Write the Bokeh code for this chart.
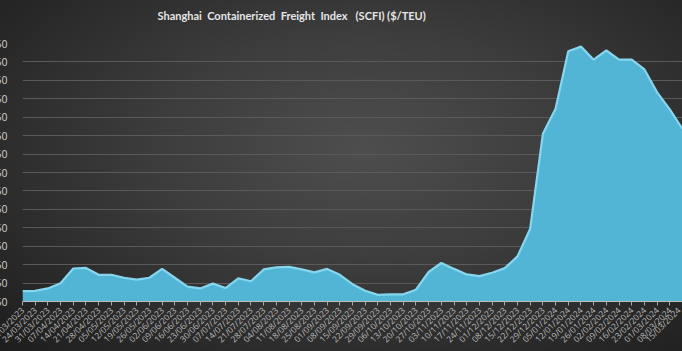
from bokeh.plotting import figure
from bokeh.models import FixedTicker, NumeralTickFormatter
from bokeh.embed import file_html
from bokeh.resources import INLINE
import math

dates = ["17/03/2023", "24/03/2023", "31/03/2023", "07/04/2023", "14/04/2023", "21/04/2023",
         "28/04/2023", "05/05/2023", "12/05/2023", "19/05/2023", "26/05/2023", "02/06/2023",
         "09/06/2023", "16/06/2023", "23/06/2023", "30/06/2023", "07/07/2023", "14/07/2023",
         "21/07/2023", "28/07/2023", "04/08/2023", "11/08/2023", "18/08/2023", "25/08/2023",
         "01/09/2023", "08/09/2023", "15/09/2023", "22/09/2023", "29/09/2023", "06/10/2023",
         "13/10/2023", "20/10/2023", "27/10/2023", "03/11/2023", "10/11/2023", "17/11/2023",
         "24/11/2023", "01/12/2023", "08/12/2023", "15/12/2023", "22/12/2023", "29/12/2023",
         "05/01/2024", "12/01/2024", "19/01/2024", "26/01/2024", "02/02/2024", "09/02/2024",
         "16/02/2024", "23/02/2024", "01/03/2024", "08/03/2024", "15/03/2024"]

scfi = [906, 908, 921, 949, 1029, 1032, 995, 995, 979, 969, 979, 1027,
        979, 931, 921, 947, 923, 976, 960, 1024, 1035, 1038, 1024, 1008,
        1027, 995, 944, 908, 886, 889, 889, 914, 1010, 1059, 1027, 997,
        988, 1006, 1031, 1095, 1245, 1760, 1896, 2208, 2233, 2162, 2212, 2162,
        2162, 2109, 1985, 1893, 1786]

y_ticks = [850, 950, 1050, 1150, 1250, 1350, 1450, 1550, 1650, 1750, 1850, 1950, 2050, 2150, 2250]

title_text = "Shanghai\u00a0\u00a0Containerized\u00a0\u00a0Freight\u00a0\u00a0Index\u00a0\u00a0\u00a0(SCFI)\u00a0($/TEU)\n\u00a0"

idx = list(range(len(dates)))

SHIFT = 24
p = figure(width=682 + SHIFT, height=351, output_backend="svg", toolbar_location=None,
           x_range=(0, len(dates) - 1), y_range=(850, 2250),
           min_border_left=22 + SHIFT, min_border_right=0, min_border_top=43, min_border_bottom=45,
           title=title_text)
p.styles = {"margin-left": f"-{SHIFT}px",
            "background-image": "radial-gradient(ellipse 75% 85% at 55% 42%, #4e4e4e 0%, #3c3c3c 40%, #262626 80%, #1c1c1c 100%)"}
p.background_fill_color = None
p.border_fill_color = None
p.outline_line_color = None

p.title.text_color = "#e6e6e6"
p.title.text_font = "Lato"
p.title.text_font_style = "bold"
p.title.text_font_size = "11px"
p.title.text_line_height = 1.5
p.title.align = "left"
p.title.offset = 135
p.title.vertical_align = "top"
p.title.standoff = 0

p.varea(x=idx, y1=850, y2=scfi, fill_color="#52b5d6")
p.line(x=idx, y=scfi, line_color="#86d6ee", line_width=2.2)

p.xgrid.grid_line_color = None
p.ygrid.grid_line_color = "#5a5a5a"
p.ygrid.grid_line_width = 1
p.ygrid.ticker = FixedTicker(ticks=y_ticks)

p.yaxis.ticker = FixedTicker(ticks=y_ticks)
p.yaxis.formatter = NumeralTickFormatter(format="0")
p.yaxis.axis_line_color = None
p.yaxis.major_tick_line_color = None
p.yaxis.minor_tick_line_color = None
p.yaxis.major_label_text_color = "#d0d0d0"
p.yaxis.major_label_text_font = "Open Sans"
p.yaxis.major_label_text_font_size = "10.5px"
p.yaxis.major_label_standoff = 9

p.xaxis.ticker = FixedTicker(ticks=idx)
p.xaxis.major_label_overrides = {i: d for i, d in enumerate(dates)}
p.xaxis.major_label_orientation = math.pi / 4
p.xaxis.axis_line_color = "#bfbfbf"
p.xaxis.major_tick_line_color = "#a8a8a8"
p.xaxis.major_tick_in = 0
p.xaxis.major_tick_out = 4
p.xaxis.minor_tick_line_color = None
p.xaxis.major_label_text_color = "#bdbdbd"
p.xaxis.major_label_text_font = "Open Sans"
p.xaxis.major_label_text_font_size = "8.5px"
p.xaxis.major_label_standoff = 3

open("out.html", "w").write(file_html(p, INLINE))
